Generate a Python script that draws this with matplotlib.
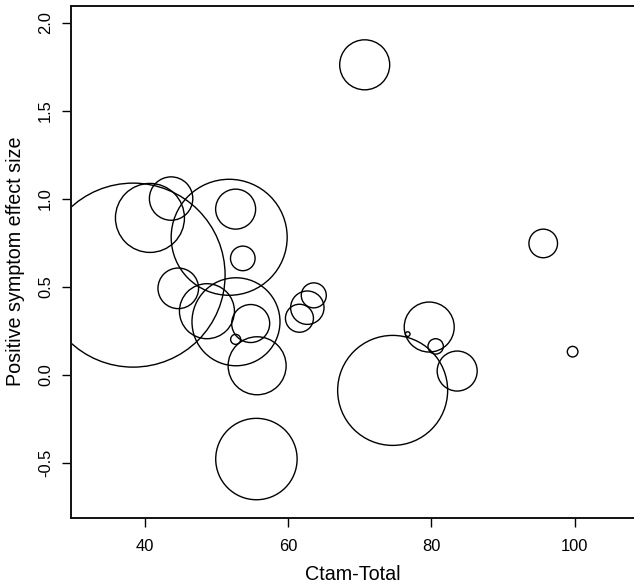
import numpy as np
import matplotlib
matplotlib.use("Agg")
import matplotlib.pyplot as plt

plt.rcParams["font.family"] = ["Liberation Sans", "DejaVu Sans"]
plt.rcParams["axes.unicode_minus"] = False

# one circle per study: x = Ctam-Total, y = effect size, size = study weight
ctam = [38.4, 40.75, 43.7, 52.7, 53.7, 51.8, 44.7, 48.7, 52.75, 54.8, 52.7, 55.7,
        55.6, 61.6, 62.7, 63.6, 70.7, 74.6, 79.7, 76.7, 80.6, 83.6, 95.6, 99.7]
effect = [0.565, 0.89, 1.0, 0.94, 0.66, 0.78, 0.49, 0.36, 0.30, 0.29, 0.20, 0.05,
          -0.48, 0.32, 0.38, 0.45, 1.76, -0.09, 0.27, 0.23, 0.16, 0.02, 0.745, 0.13]
weight = [9.2, 3.45, 2.17, 2.0, 1.23, 5.8, 2.03, 2.75, 4.4, 1.9, 0.5, 2.9,
          4.07, 1.4, 1.67, 1.25, 2.5, 5.5, 2.5, 0.23, 0.77, 2.0, 1.43, 0.53]

xticks = [40, 60, 80, 100]
yticks = [-0.5, 0.0, 0.5, 1.0, 1.5, 2.0]

W, H, DPI = 634, 587, 100
fig = plt.figure(figsize=(W / DPI, H / DPI), dpi=DPI)
ax = fig.add_axes([71 / W, 1 - 518 / H, 1 - 71 / W, (518 - 5.5) / H])

# like R symbols(inches=...): biggest circle gets a fixed radius
max_r_px = 92
r_px = np.array(weight) / max(weight) * max_r_px
sizes = (2 * r_px * 72 / DPI) ** 2
ax.scatter(ctam, effect, s=sizes, facecolors="none", edgecolors="black",
           linewidths=1.0)

ax.set_xlim(29.74, 108.26)
ax.set_ylim(-0.815, 2.097)
ax.set_xticks(xticks)
ax.set_yticks(yticks)
ax.set_yticklabels([f"{v:.1f}" for v in yticks], rotation=90, va="center")
ax.tick_params(length=6.5, width=1, labelsize=11.9, colors="black")
ax.tick_params(axis="x", pad=8.5)
ax.tick_params(axis="y", pad=6.5)

for side in ["left", "top", "bottom"]:
    ax.spines[side].set_linewidth(1.4)
    ax.spines[side].set_color("#111111")
ax.spines["right"].set_visible(False)

ax.set_xlabel("Ctam-Total", fontsize=14.2, labelpad=8)
ax.set_ylabel("Positive symptom effect size", fontsize=14.2, labelpad=9)

fig.savefig("out.png", dpi=DPI)
